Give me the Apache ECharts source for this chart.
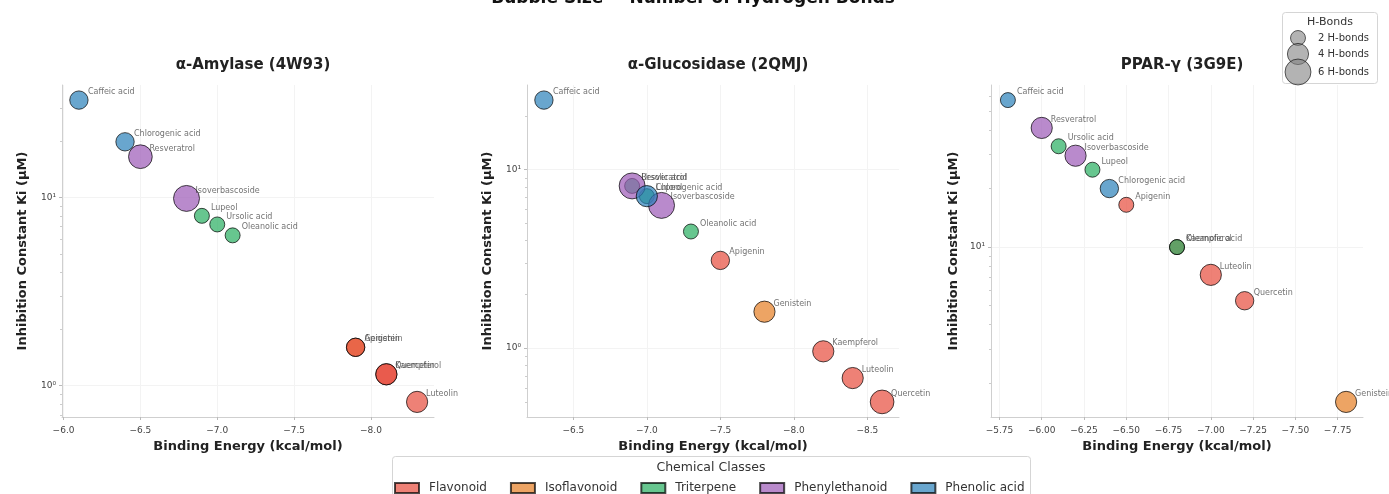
<!DOCTYPE html>
<html><head><meta charset="utf-8">
<script src="https://cdn.jsdelivr.net/npm/echarts@6/dist/echarts.min.js"></script>
<style>html,body{margin:0;padding:0;background:#fff}#c{width:1389px;height:494px}</style>
</head><body><div id="c"></div><script>
// ---------------- data ----------------
const compounds = ['Quercetin','Kaempferol','Luteolin','Apigenin','Genistein','Ursolic acid','Oleanolic acid','Lupeol','Resveratrol','Isoverbascoside','Caffeic acid','Chlorogenic acid'];
const compoundClass = ['Flavonoid','Flavonoid','Flavonoid','Flavonoid','Isoflavonoid','Triterpene','Triterpene','Triterpene','Phenylethanoid','Phenylethanoid','Phenolic acid','Phenolic acid'];
const classNames = ['Flavonoid','Isoflavonoid','Triterpene','Phenylethanoid','Phenolic acid'];
const classColors = ['#E74C3C','#E67E22','#27AE60','#9B59B6','#2980B9'];
const drawOrder = ['Isoflavonoid','Flavonoid','Triterpene','Phenylethanoid','Phenolic acid'];

const panelTitles = ['α-Amylase (4W93)','α-Glucosidase (2QMJ)','PPAR-γ (3G9E)'];

// α-Amylase (4W93)
const energyAmylase = [-8.1,-8.1,-8.3,-7.9,-7.9,-7.0,-7.1,-6.9,-6.5,-6.8,-6.1,-6.4];
const kiAmylase     = [1.15,1.15,0.82,1.6,1.6,7.2,6.3,8.0,16.5,9.9,33,19.8];
const hbAmylase     = [4,4,4,3,3,2,2,2,5,6,3,3];
// α-Glucosidase (2QMJ)
const energyGlucosidase = [-8.6,-8.2,-8.4,-7.5,-7.8,-6.9,-7.3,-7.0,-6.9,-7.1,-6.3,-7.0];
const kiGlucosidase     = [0.50,0.96,0.68,3.1,1.6,8.1,4.5,7.1,8.1,6.3,24.5,7.1];
const hbGlucosidase     = [5,4,4,3,4,2,2,2,6,6,3,4];
// PPAR-γ (3G9E)
const energyPPAR = [-7.2,-6.8,-7.0,-6.5,-7.8,-6.1,-6.8,-6.3,-6.0,-6.2,-5.8,-6.4];
const kiPPAR     = [5.3,10.0,7.2,16.5,1.6,33,10.0,25,41,29.5,57,20];
const hbPPAR     = [3,2,4,2,4,2,2,2,4,4,2,3];

// ticks
const xTicksAmylase = [-6.0,-6.5,-7.0,-7.5,-8.0];
const xTicksGlucosidase = [-6.5,-7.0,-7.5,-8.0,-8.5];
const xTicksPPAR = [-5.75,-6.0,-6.25,-6.5,-6.75,-7.0,-7.25,-7.5,-7.75];
const xTickDecimals = [1,1,2];
const yMajorTicks = [0.1,1,10,100];
const yMajorLabels = ['10⁻¹','10⁰','10¹','10²'];
const yMinorTicks = [0.2,0.3,0.4,0.5,0.6,0.7,0.8,0.9,2,3,4,5,6,7,8,9,20,30,40,50,60,70,80,90];
const hbondLegendValues = [2,4,6];

// ---------------- build ----------------
const panels = [
  {e: energyAmylase, k: kiAmylase, h: hbAmylase, xt: xTicksAmylase},
  {e: energyGlucosidase, k: kiGlucosidase, h: hbGlucosidase, xt: xTicksGlucosidase},
  {e: energyPPAR, k: kiPPAR, h: hbPPAR, xt: xTicksPPAR}
];
const gridLefts = [62, 527, 991];
const gridW = 372, gridTop = 85, gridH = 332;
const sizeOf = hb => 10.6 * Math.sqrt(hb);
const FONT = 'DejaVu Sans';

function pad(a, b) { const s = b - a; return [a - 0.05 * s, b + 0.05 * s]; }

const grids = [], xAxes = [], yAxes = [], series = [], titles = [];
panels.forEach((p, i) => {
  grids.push({left: gridLefts[i], top: gridTop, width: gridW, height: gridH});
  const xr = pad(Math.min(...p.e), Math.max(...p.e));
  const lk = p.k.map(v => Math.log10(v));
  const yr = pad(Math.min(...lk), Math.max(...lk)).map(v => Math.pow(10, v));
  const dec = xTickDecimals[i];
  xAxes.push({
    type: 'value', gridIndex: i, inverse: true, min: xr[0], max: xr[1],
    name: 'Binding Energy (kcal/mol)', nameLocation: 'middle', nameGap: 23,
    nameTextStyle: {fontFamily: FONT, fontWeight: 'bold', fontSize: 13, color: '#222'},
    axisLine: {lineStyle: {color: '#cfcfcf', width: 1}},
    axisTick: {show: true, length: 3, lineStyle: {color: '#bbb'}, customValues: p.xt},
    axisLabel: {fontFamily: FONT, fontSize: 9, color: '#444', margin: 9, customValues: p.xt,
      formatter: v => (v < 0 ? '\u2212' : '') + Math.abs(v).toFixed(dec)},
    splitLine: {show: true, lineStyle: {color: '#f3f3f3', width: 1}}
  });
  yAxes.push({
    type: 'log', logBase: 10, gridIndex: i, min: yr[0], max: yr[1],
    name: 'Inhibition Constant Ki (μM)', nameLocation: 'middle', nameGap: i === 2 ? 31 : 33, nameRotate: 90,
    nameTextStyle: {fontFamily: FONT, fontWeight: 'bold', fontSize: 13, color: '#222'},
    axisLine: {show: true, lineStyle: {color: '#cfcfcf', width: 1}},
    axisTick: {show: true, length: 3, lineStyle: {color: '#bbb'}, customValues: yMajorTicks.filter(v => v >= yr[0] && v <= yr[1])},
    axisLabel: {fontFamily: FONT, fontSize: 9, color: '#444', margin: 6,
      customValues: yMajorTicks.filter(v => v >= yr[0] && v <= yr[1]),
      formatter: v => { const j = yMajorTicks.findIndex(t => Math.abs(t - v) / t < 1e-6); return j >= 0 ? yMajorLabels[j] : ''; }},
    splitLine: {show: true, lineStyle: {color: '#f3f3f3', width: 1}}
  });
  yAxes.push({
    type: 'log', logBase: 10, gridIndex: i, min: yr[0], max: yr[1], position: 'left',
    axisLine: {show: false},
    axisTick: {show: true, length: 2, lineStyle: {color: '#ccc'}, customValues: yMinorTicks.filter(v => v >= yr[0] && v <= yr[1])},
    axisLabel: {show: false}, splitLine: {show: false}
  });
  titles.push({text: panelTitles[i], left: gridLefts[i] + gridW / 2, top: 53, textAlign: 'center',
    textStyle: {fontFamily: FONT, fontWeight: 'bold', fontSize: 15, color: '#222'}});
  drawOrder.forEach(cls => {
    const ci = classNames.indexOf(cls);
    const data = [];
    compounds.forEach((name, j) => {
      if (compoundClass[j] === cls) data.push({name: name, value: [p.e[j], p.k[j], p.h[j]]});
    });
    series.push({
      type: 'scatter', name: cls, xAxisIndex: i, yAxisIndex: i * 2, data: data,
      symbolSize: v => sizeOf(v[2]),
      itemStyle: {color: classColors[ci], opacity: 0.7, borderColor: '#000', borderWidth: 1},
      label: {show: true, position: 'inside', align: 'left', verticalAlign: 'middle', offset: [9, -8],
        formatter: d => d.name, fontFamily: FONT, fontSize: 8, color: '#333'},
      emphasis: {disabled: true}, animation: false
    });
  });
});

// graphic: suptitle, H-bond legend, class legend frame
const graphic = [
  {type: 'text', x: 693, y: 7, style: {text: 'Bubble Size = Number of Hydrogen Bonds', fontFamily: FONT, fontWeight: 'bold', fontSize: 17, fill: '#111', align: 'center', verticalAlign: 'bottom'}},
  {type: 'rect', shape: {x: 1282.5, y: 12.5, width: 95, height: 71, r: 3}, style: {fill: 'rgba(255,255,255,0.8)', stroke: '#d5d5d5', lineWidth: 1}},
  {type: 'text', x: 1330, y: 22, style: {text: 'H-Bonds', fontFamily: FONT, fontSize: 11, fill: '#333', align: 'center', verticalAlign: 'middle'}},
  {type: 'rect', shape: {x: 392.5, y: 456.5, width: 638, height: 60, r: 3}, style: {fill: 'rgba(255,255,255,0.8)', stroke: '#d5d5d5', lineWidth: 1}},
  {type: 'text', x: 711, y: 468, style: {text: 'Chemical Classes', fontFamily: FONT, fontSize: 12.5, fill: '#333', align: 'center', verticalAlign: 'middle'}}
];
const hbY = [38, 54, 72];
hbondLegendValues.forEach((hb, j) => {
  graphic.push({type: 'circle', shape: {cx: 1298, cy: hbY[j], r: sizeOf(hb) / 2},
    style: {fill: 'rgba(128,128,128,0.6)', stroke: 'rgba(0,0,0,0.6)', lineWidth: 1}});
  graphic.push({type: 'text', x: 1318, y: hbY[j], style: {text: hb + ' H-bonds', fontFamily: FONT, fontSize: 10, fill: '#333', align: 'left', verticalAlign: 'middle'}});
});

const chart = echarts.init(document.getElementById('c'), null, {renderer: 'canvas'});
chart.setOption({
  animation: false,
  backgroundColor: '#fff',
  title: titles,
  grid: grids, xAxis: xAxes, yAxis: yAxes, series: series,
  legend: {data: classNames, left: 394, top: 482, icon: 'rect', itemWidth: 24, itemHeight: 10, itemGap: 23, padding: 0,
    textStyle: {fontFamily: FONT, fontSize: 12, color: '#333', padding: [0, 0, 0, 5]}, selectedMode: false},
  graphic: graphic
});
</script></body></html>
